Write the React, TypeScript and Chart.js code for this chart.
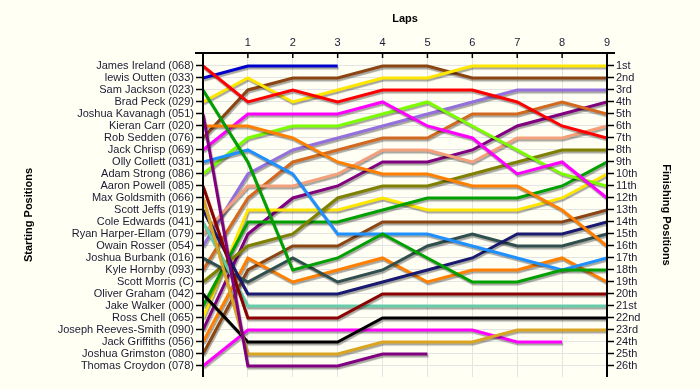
import React, { useEffect, useRef } from 'react';
import { Chart, registerables } from 'chart.js';

Chart.register(...registerables);

const laps = [0, 1, 2, 3, 4, 5, 6, 7, 8, 9];
const lapTickLabels = ['', '1', '2', '3', '4', '5', '6', '7', '8', '9'];

const startingLabels = [
  'James Ireland (068)', 'lewis Outten (033)', 'Sam Jackson (023)', 'Brad Peck (029)',
  'Joshua Kavanagh (051)', 'Kieran Carr (020)', 'Rob Sedden (076)', 'Jack Chrisp (069)',
  'Olly Collett (031)', 'Adam Strong (086)', 'Aaron Powell (085)', 'Max Goldsmith (066)',
  'Scott Jeffs (019)', 'Cole Edwards (041)', 'Ryan Harper-Ellam (079)', 'Owain Rosser (054)',
  'Joshua Burbank (016)', 'Kyle Hornby (093)', 'Scott Morris (C)', 'Oliver Graham (042)',
  'Jake Walker (000)', 'Ross Chell (065)', 'Joseph Reeves-Smith (090)', 'Jack Griffiths (056)',
  'Joshua Grimston (080)', 'Thomas Croydon (078)',
];

const finishingLabels = [
  '1st', '2nd', '3rd', '4th', '5th', '6th', '7th', '8th', '9th', '10th', '11th', '12th', '13th',
  '14th', '15th', '16th', '17th', '18th', '19th', '20th', '21st', '22nd', '23rd', '24th', '25th', '26th',
];

// position after each lap (index 0 = start)
const jamesIreland = [1, 4, 3, 4, 3, 3, 3, 4, 6, 7];
const lewisOutten = [2, 1, 1, 1];
const samJackson = [3, 9, 18, 17, 15, 17, 19, 19, 18, 18];
const bradPeck = [4, 2, 4, 3, 2, 2, 1, 1, 1, 1];
const joshuaKavanagh = [5, 26, 26, 26, 25, 25];
const kieranCarr = [6, 6, 7, 9, 10, 10, 11, 11, 13, 16];
const robSedden = [7, 3, 2, 2, 1, 1, 2, 2, 2, 2];
const jackChrisp = [8, 5, 5, 5, 4, 6, 7, 10, 9, 12];
const ollyCollett = [9, 8, 10, 15, 15, 15, 16, 17, 18, 17];
const adamStrong = [10, 7, 6, 6, 5, 4, 6, 8, 10, 11];
const aaronPowell = [11, 22, 22, 22, 20, 20, 20, 20, 20, 20];
const maxGoldsmith = [12, 25, 25, 25, 24, 24, 24, 23, 23, 23];
const scottJeffs = [13, 20, 20, 20, 19, 18, 17, 15, 15, 14];
const coleEdwards = [14, 21, 21, 21, 21, 21, 21, 21, 21, 21];
const ryanHarperEllam = [15, 11, 11, 10, 8, 8, 9, 7, 7, 6];
const owainRosser = [16, 10, 8, 7, 6, 5, 4, 3, 3, 3];
const joshuaBurbank = [17, 19, 17, 19, 18, 16, 15, 16, 16, 15];
const kyleHornby = [18, 12, 9, 8, 7, 7, 5, 5, 4, 5];
const scottMorris = [19, 16, 15, 12, 11, 11, 10, 9, 8, 8];
const oliverGraham = [20, 24, 24, 24, 22, 22, 22, 22, 22, 22];
const jakeWalker = [21, 14, 14, 14, 13, 12, 12, 12, 11, 9];
const rossChell = [22, 13, 13, 13, 12, 13, 13, 13, 12, 10];
const josephReevesSmith = [23, 15, 12, 11, 9, 9, 8, 6, 5, 4];
const jackGriffiths = [24, 17, 19, 18, 17, 19, 18, 18, 17, 19];
const joshuaGrimston = [25, 18, 16, 16, 14, 14, 14, 14, 14, 13];
const thomasCroydon = [26, 23, 23, 23, 23, 23, 23, 24, 24];

const driverPositions = [
  jamesIreland, lewisOutten, samJackson, bradPeck, joshuaKavanagh, kieranCarr, robSedden,
  jackChrisp, ollyCollett, adamStrong, aaronPowell, maxGoldsmith, scottJeffs, coleEdwards,
  ryanHarperEllam, owainRosser, joshuaBurbank, kyleHornby, scottMorris, oliverGraham,
  jakeWalker, rossChell, josephReevesSmith, jackGriffiths, joshuaGrimston, thomasCroydon,
];

const lineColors = [
  '#ff0000', '#0000cc', '#00a000', '#ffe600', '#800080', '#ff8000', '#8b4513', '#ff00ff',
  '#1e90ff', '#7cfc00', '#8b0000', '#daa520', '#191970', '#66cdaa', '#f4a07a', '#9370db',
  '#2f4f4f', '#d2691e', '#808000', '#000000', '#00a000', '#ffe600', '#800080', '#ff8000',
  '#8b4513', '#ff00ff',
];

const BG = '#fffff4';
const GRID = '#e4e4e4';
const TEXT = '#1a1a33';
const FONT = "'Liberation Sans', Arial, sans-serif";

const framePlugin = {
  id: 'frame',
  beforeDraw(chart: any) {
    const { ctx, width, height } = chart;
    ctx.save();
    ctx.fillStyle = BG;
    ctx.fillRect(0, 0, width, height);
    ctx.restore();
  },
  beforeDatasetDraw(chart: any) {
    const ctx = chart.ctx;
    ctx.save();
    ctx.shadowColor = 'rgba(0,0,0,0.35)';
    ctx.shadowOffsetX = 1;
    ctx.shadowOffsetY = 2;
    ctx.shadowBlur = 1;
  },
  afterDatasetDraw(chart: any) {
    chart.ctx.restore();
  },
  afterDraw(chart: any) {
    const { ctx, chartArea } = chart;
    const { left, right, top, bottom } = chartArea;
    const xs = chart.scales.x;
    ctx.save();
    ctx.strokeStyle = '#000';
    ctx.lineWidth = 2;
    ctx.beginPath();
    ctx.moveTo(left - 8, top);
    ctx.lineTo(right + 8, top);
    ctx.moveTo(left, top);
    ctx.lineTo(left, bottom);
    ctx.moveTo(right, top);
    ctx.lineTo(right, bottom);
    ctx.stroke();
    ctx.lineWidth = 1.5;
    ctx.beginPath();
    for (const lap of laps) {
      const px = xs.getPixelForValue(lap);
      ctx.moveTo(px, top);
      ctx.lineTo(px, top + 5);
    }
    ctx.stroke();
    ctx.restore();
  },
};

export default function App() {
  const canvasRef = useRef<HTMLCanvasElement>(null);

  useEffect(() => {
    const canvas = canvasRef.current;
    if (!canvas) return;
    Chart.defaults.font.family = FONT;
    Chart.defaults.color = TEXT;

    const datasets = driverPositions.map((positions, i) => ({
      label: startingLabels[i],
      data: laps.map((lap, j) => ({ x: lap, y: j < positions.length ? positions[j] : null })),
      borderColor: lineColors[i],
      backgroundColor: lineColors[i],
      borderWidth: 3,
      pointRadius: 0,
      tension: 0,
      spanGaps: false,
      fill: false,
    }));

    const positionTicks = (scale: any) => {
      scale.ticks = startingLabels.map((_, i) => ({ value: i + 1 }));
    };

    const chart = new Chart(canvas, {
      type: 'line',
      data: { datasets },
      plugins: [framePlugin],
      options: {
        animation: false,
        responsive: false,
        devicePixelRatio: 1,
        layout: { padding: { left: 0, right: 0, top: 0, bottom: 13 } },
        plugins: { legend: { display: false }, tooltip: { enabled: false } },
        scales: {
          x: {
            type: 'linear',
            position: 'top',
            min: 0,
            max: 9,
            afterBuildTicks: (scale: any) => {
              scale.ticks = laps.map((l) => ({ value: l }));
            },
            afterFit: (scale: any) => {
              scale.height = 53;
            },
            ticks: {
              padding: 3,
              font: { size: 11, family: FONT },
              color: TEXT,
              callback: (v: any) => lapTickLabels[Number(v)] ?? '',
              maxRotation: 0,
            },
            grid: { color: GRID, lineWidth: 1, drawTicks: false },
            border: { display: false },
            title: {
              display: true,
              text: 'Laps',
              font: { size: 11, weight: 'bold', family: FONT },
              color: '#000',
              padding: { top: 12, bottom: 0 },
            },
          },
          y: {
            type: 'linear',
            position: 'left',
            reverse: true,
            min: -0.08,
            max: 26.92,
            afterBuildTicks: positionTicks,
            afterFit: (scale: any) => {
              scale.width = 203;
            },
            ticks: {
              padding: 2,
              autoSkip: false,
              font: { size: 11, family: FONT },
              color: TEXT,
              callback: (v: any) => startingLabels[Number(v) - 1] ?? '',
            },
            grid: { color: GRID, lineWidth: 1, drawTicks: true, tickLength: 7, tickColor: '#000', tickWidth: 1.5 },
            border: { display: false },
            title: {
              display: true,
              text: 'Starting Positions',
              font: { size: 11, weight: 'bold', family: FONT },
              color: '#000',
              padding: { top: 22, bottom: 0 },
            },
          },
          y2: {
            type: 'linear',
            position: 'right',
            reverse: true,
            min: -0.08,
            max: 26.92,
            afterBuildTicks: positionTicks,
            afterFit: (scale: any) => {
              scale.width = 93;
            },
            ticks: {
              padding: 2,
              autoSkip: false,
              font: { size: 11, family: FONT },
              color: TEXT,
              callback: (v: any) => finishingLabels[Number(v) - 1] ?? '',
            },
            grid: { drawOnChartArea: false, drawTicks: true, tickLength: 7, tickColor: '#000', tickWidth: 1.5 },
            border: { display: false },
            title: {
              display: true,
              text: 'Finishing Positions',
              font: { size: 11, weight: 'bold', family: FONT },
              color: '#000',
              padding: { top: 27, bottom: 0 },
            },
          },
        },
      },
    });
    return () => chart.destroy();
  }, []);

  return (
    <div style={{ position: 'fixed', left: 0, top: 0, width: 700, height: 390, background: BG }}>
      <canvas ref={canvasRef} width={700} height={390} style={{ display: 'block', width: 700, height: 390 }} />
    </div>
  );
}
